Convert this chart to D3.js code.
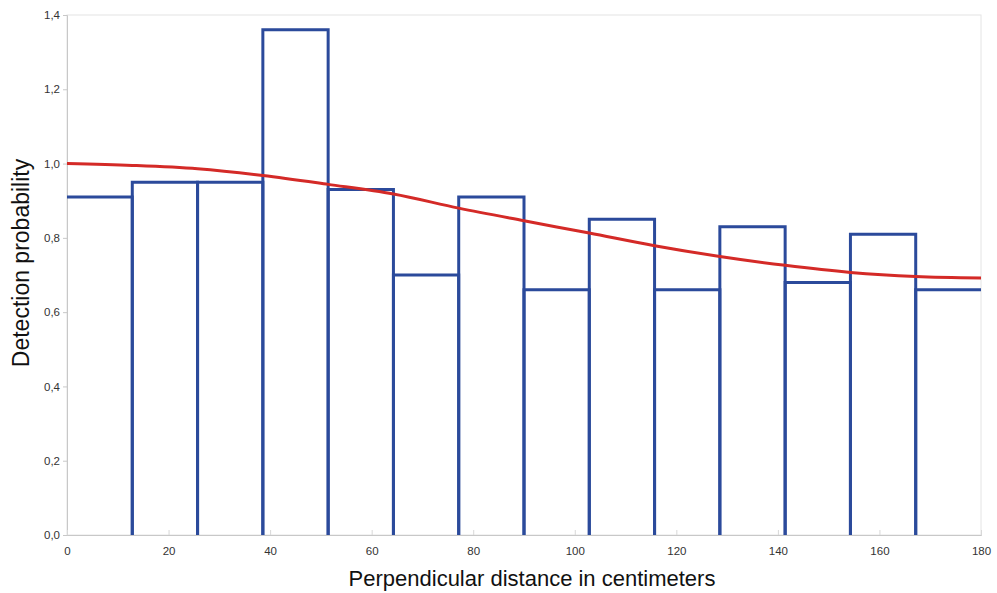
<!DOCTYPE html>
<html>
<head>
<meta charset="utf-8">
<script src="https://cdn.jsdelivr.net/npm/d3@7"></script>
<style>
  body { margin: 0; background: #fff; }
  svg { display: block; font-family: "Liberation Sans", Arial, sans-serif; }
</style>
</head>
<body>
<svg></svg>
<script>
// histogram of detection probability, 14 bins over 0..180 cm
const binEdges = [0, 12.857, 25.714, 38.571, 51.429, 64.286, 77.143, 90,
                  102.857, 115.714, 128.571, 141.429, 154.286, 167.143, 180];
const binValues = [0.91, 0.95, 0.95, 1.36, 0.93, 0.70, 0.91, 0.66, 0.85, 0.66, 0.83, 0.68, 0.81, 0.66];

// fitted detection function, read at the bin edges
const curveX = binEdges;
const curveY = [1.00, 0.995, 0.986, 0.968, 0.944, 0.918, 0.880, 0.846, 0.813, 0.779, 0.750, 0.726, 0.707, 0.696, 0.692];

const xTicks = [0, 20, 40, 60, 80, 100, 120, 140, 160, 180];
const yTicks = [0, 0.2, 0.4, 0.6, 0.8, 1.0, 1.2, 1.4];

const width = 997;
const height = 593;
const margin = {top: 15, right: 16, bottom: 58, left: 67};

const svg = d3.select("svg")
              .attr("width", width)
              .attr("height", height);

const x = d3.scaleLinear().domain([0, 180]).range([margin.left, width - margin.right]);
const y = d3.scaleLinear().domain([0, 1.4]).range([height - margin.bottom, margin.top]);

const fmt = d => d3.format(".1f")(d).replace(".", ",");

// plot frame
svg.append("rect")
    .attr("x", x(0)).attr("y", y(1.4))
    .attr("width", x(180) - x(0)).attr("height", y(0) - y(1.4))
    .attr("fill", "none")
    .attr("stroke", "#e4e4e4");

// y axis
const yAxis = svg.append("g")
    .attr("transform", `translate(${x(0)},0)`)
    .call(d3.axisLeft(y).tickValues(yTicks).tickFormat(fmt).tickSize(4).tickPadding(3));
yAxis.select(".domain").attr("stroke", "#c8c8c8");
yAxis.selectAll(".tick line").attr("stroke", "#c8c8c8");
yAxis.selectAll("text").attr("font-size", 11.5).attr("fill", "#333");

// x axis
const xAxis = svg.append("g")
    .attr("transform", `translate(0,${y(0)})`)
    .call(d3.axisBottom(x).tickValues(xTicks).tickSize(-5).tickPadding(12));
xAxis.select(".domain").attr("stroke", "#c8c8c8");
xAxis.selectAll(".tick line").attr("stroke", "#d8d8d8");
xAxis.selectAll("text").attr("font-size", 11.5).attr("fill", "#333");

// bars as outlines; outer edges sit on the frame
svg.append("g").selectAll("path")
    .data(binValues)
    .enter()
    .append("path")
      .attr("d", function(d, i) {
        const x0 = x(binEdges[i]), x1 = x(binEdges[i + 1]);
        const y0 = y(0), yt = y(d);
        let p = (i === 0 ? `M${x0},${yt}` : `M${x0},${y0}V${yt}`) + `H${x1}`;
        if (i < binValues.length - 1) p += `V${y0}`;
        return p;
      })
      .attr("fill", "none")
      .attr("stroke", "#2b4a9b")
      .attr("stroke-width", 3);

// fitted curve
const line = d3.line()
    .x((d, i) => x(curveX[i]))
    .y(d => y(d))
    .curve(d3.curveMonotoneX);

svg.append("path")
    .datum(curveY)
    .attr("d", line)
    .attr("fill", "none")
    .attr("stroke", "#d42a27")
    .attr("stroke-width", 3);

// axis titles
svg.append("text")
    .attr("x", 532)
    .attr("y", 586)
    .attr("text-anchor", "middle")
    .attr("font-size", 22)
    .attr("fill", "#111")
    .text("Perpendicular distance in centimeters");

svg.append("text")
    .attr("transform", `translate(29,263) rotate(-90)`)
    .attr("text-anchor", "middle")
    .attr("font-size", 23)
    .attr("fill", "#111")
    .text("Detection probability");
</script>
</body>
</html>
